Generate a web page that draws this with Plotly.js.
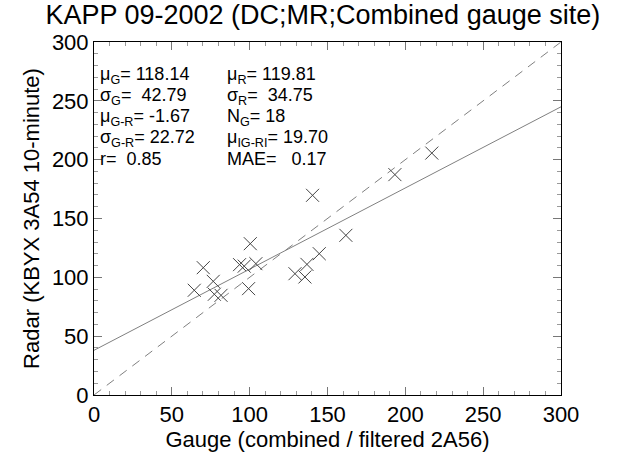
<!DOCTYPE html>
<html>
<head>
<meta charset="utf-8">
<script src="https://cdn.plot.ly/plotly-3.0.1.min.js"></script>
<style>html,body{margin:0;padding:0;background:#fff;}#chart{width:623px;height:452px;}</style>
</head>
<body>
<div id="chart"></div>
<script>
var gauge = [217.0, 193.3, 140.4, 161.8, 144.7, 136.8, 129.1, 135.5, 100.4, 104.0, 93.5, 96.5, 70.2, 76.6, 64.4, 77.3, 81.6, 99.3];
var radar = [205.6, 187.3, 169.7, 135.7, 120.1, 111.0, 103.1, 100.3, 128.6, 111.6, 110.8, 109.5, 108.2, 96.6, 89.0, 85.6, 84.7, 90.4];
var axisRange = [0, 300];
var tickVals = [0, 50, 100, 150, 200, 250, 300];
var statsLeft = ["μ<sub>G</sub>= 118.14", "σ<sub>G</sub>=  42.79", "μ<sub>G-R</sub>= -1.67", "σ<sub>G-R</sub>= 22.72", "r=  0.85"];
var statsRight = ["μ<sub>R</sub>= 119.81", "σ<sub>R</sub>=  34.75", "N<sub>G</sub>= 18", "μ<sub>IG-RI</sub>= 19.70", "MAE=   0.17"];

// least squares fit
var n = gauge.length, sx = 0, sy = 0, sxx = 0, sxy = 0;
for (var i = 0; i < n; i++) { sx += gauge[i]; sy += radar[i]; sxx += gauge[i]*gauge[i]; sxy += gauge[i]*radar[i]; }
var slope = (n*sxy - sx*sy) / (n*sxx - sx*sx);
var icpt = (sy - slope*sx) / n;

var font = "Liberation Sans, Arial, Helvetica, sans-serif";
var traces = [
  {x: axisRange, y: axisRange, mode: 'lines', line: {color: '#808080', width: 1, dash: '9px,7px'}, hoverinfo: 'skip'},
  {x: axisRange, y: axisRange.map(function(v){return icpt + slope*v;}), mode: 'lines', line: {color: '#808080', width: 1}, hoverinfo: 'skip'},
  {x: gauge, y: radar, mode: 'markers', marker: {symbol: 'x-thin-open', size: 13, color: '#444', line: {width: 1, color: '#444'}}}
];

var annotations = [];
var rowY = [271.6, 253.8, 236.0, 218.2, 200.4];
for (var k = 0; k < statsLeft.length; k++) {
  annotations.push({x: 2.5, y: rowY[k], xref: 'x', yref: 'y', text: statsLeft[k], showarrow: false, xanchor: 'left', yanchor: 'middle', font: {family: font, size: 18, color: '#000'}});
  annotations.push({x: 84, y: rowY[k], xref: 'x', yref: 'y', text: statsRight[k], showarrow: false, xanchor: 'left', yanchor: 'middle', font: {family: font, size: 18, color: '#000'}});
}

var axisBase = {
  range: axisRange, tickvals: tickVals, ticks: 'inside', ticklen: 8, tickcolor: '#777', tickwidth: 1,
  showline: true, linecolor: '#000', linewidth: 1, mirror: 'ticks', showgrid: false, zeroline: false,
  tickfont: {family: font, size: 22, color: '#000'},
  minor: {dtick: 10, ticks: 'inside', ticklen: 4, tickcolor: '#999', showgrid: false}
};
var xaxis = Object.assign({}, axisBase, {title: {text: 'Gauge (combined / filtered 2A56)', font: {family: font, size: 22, color: '#000'}, standoff: 2}});
var yaxis = Object.assign({}, axisBase, {title: {text: 'Radar (KBYX 3A54 10-minute)', font: {family: font, size: 22, color: '#000'}, standoff: 6}});

var layout = {
  width: 623, height: 452,
  margin: {l: 94, r: 62, t: 42, b: 57},
  paper_bgcolor: '#fff', plot_bgcolor: '#fff',
  showlegend: false,
  title: {text: 'KAPP 09-2002 (DC;MR;Combined gauge site)', font: {family: font, size: 27, color: '#000'}, xref: 'paper', x: 0.49, xanchor: 'center', y: 0.967, yanchor: 'middle'},
  xaxis: xaxis, yaxis: yaxis,
  annotations: annotations
};
Plotly.newPlot('chart', traces, layout, {displayModeBar: false, staticPlot: true});
</script>
</body>
</html>
